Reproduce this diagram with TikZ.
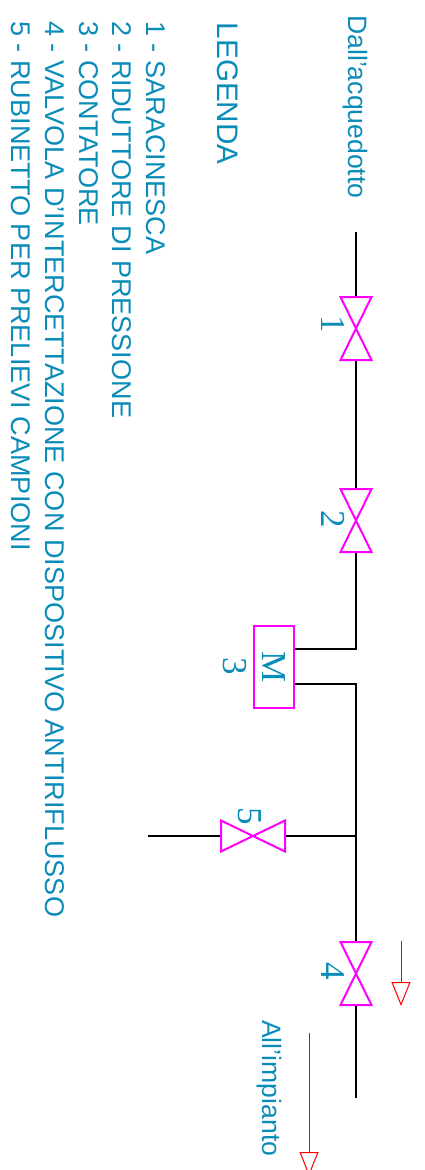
\documentclass[tikz,border=0pt]{standalone}
\usepackage{fontspec}
\setmainfont{Liberation Sans}
\newfontfamily\numfont{Liberation Serif}
\usetikzlibrary{arrows.meta}
\definecolor{testo}{RGB}{10,140,185}
\definecolor{viola}{RGB}{255,0,255}
\definecolor{rosso}{RGB}{255,0,0}
\tikzset{
  tubo/.style={black, line width=2pt},
  valvola/.style={viola, line width=2pt, line join=miter},
  freccia/.style={rosso, line width=1pt, -{Triangle[open,length=24pt,width=19pt]}},
  etichetta/.style={testo, rotate=-90, anchor=base west, inner sep=0pt, font=\fontsize{27.1}{27.1}\selectfont},
  numero/.style={testo, rotate=-90, anchor=base west, inner sep=0pt, font=\numfont\fontsize{35}{35}\selectfont},
}
\begin{document}
\begin{tikzpicture}[x=1pt, y=-1pt]
    \useasboundingbox (0,0) rectangle (425,1170);

    \node[etichetta, font=\fontsize{26.6}{26.6}\selectfont] (dall) at (348,15) {Dall'acquedotto};
    \node[etichetta, font=\fontsize{26.6}{26.6}\selectfont] (impianto) at (262,1020) {All'impianto};
    \node[etichetta, font=\fontsize{29.7}{29.7}\selectfont] (legenda) at (217,22.5) {LEGENDA};

    \foreach \n/\x/\t in {l1/146/1 - SARACINESCA, l2/112.5/2 - RIDUTTORE DI PRESSIONE, l3/79/3 - CONTATORE, l4/45.5/4 - VALVOLA D'INTERCETTAZIONE CON DISPOSITIVO ANTIRIFLUSSO, l5/12/5 - RUBINETTO PER PRELIEVI CAMPIONI}
        \node[etichetta] (\n) at (\x,21) {\t};

    \foreach \n/\y in {v1/297, v2/489, v4/942} {
        \coordinate (\n a) at (356,\y);
        \coordinate (\n b) at (356,\y+63);
    }
    \coordinate (inizio) at (356,232);
    \coordinate (fine) at (356,1098);
    \coordinate (m1) at (356,649);
    \coordinate (m1s) at (294,649);
    \coordinate (m2) at (356,684);
    \coordinate (m2s) at (294,684);
    \coordinate (nodo5) at (356,836);
    \coordinate (v5a) at (285,836);
    \coordinate (v5b) at (221,836);
    \coordinate (rub) at (148,836);

    \draw[tubo] (inizio) -- (v1a);
    \draw[tubo] (v1b) -- (v2a);
    \draw[tubo] (v2b) -- (m1) -- (m1s);
    \draw[tubo] (m2s) -- (m2) -- (v4a);
    \draw[tubo] (v4b) -- (fine);
    \draw[tubo] (nodo5) -- (v5a);
    \draw[tubo] (v5b) -- (rub);

    \foreach \n in {v1, v2, v4}
        \draw[valvola] ([xshift=-15.5pt]\n a) -- ([xshift=15.5pt]\n a) -- ([xshift=-15.5pt]\n b) -- ([xshift=15.5pt]\n b) -- cycle;
    \draw[valvola] ([yshift=15.5pt]v5a) -- ([yshift=-15.5pt]v5a) -- ([yshift=15.5pt]v5b) -- ([yshift=-15.5pt]v5b) -- cycle;

    \node[numero, draw=viola, line width=2pt, anchor=center, minimum width=82pt, minimum height=40pt] (contatore) at (274,667) {M};

    \node[numero] (n1) at (321,315) {1};
    \node[numero] (n2) at (321,510) {2};
    \node[numero] (n3) at (223,657) {3};
    \node[numero] (n4) at (321,962) {4};
    \node[numero] (n5) at (238,807) {5};

    \coordinate (f1a) at (401,941);
    \coordinate (f1b) at (401,1006);
    \coordinate (f2a) at (309,1033);
    \coordinate (f2b) at (309,1176);
    \draw[freccia] (f1a) -- (f1b);
    \draw[freccia] (f2a) -- (f2b);
\end{tikzpicture}
\end{document}
